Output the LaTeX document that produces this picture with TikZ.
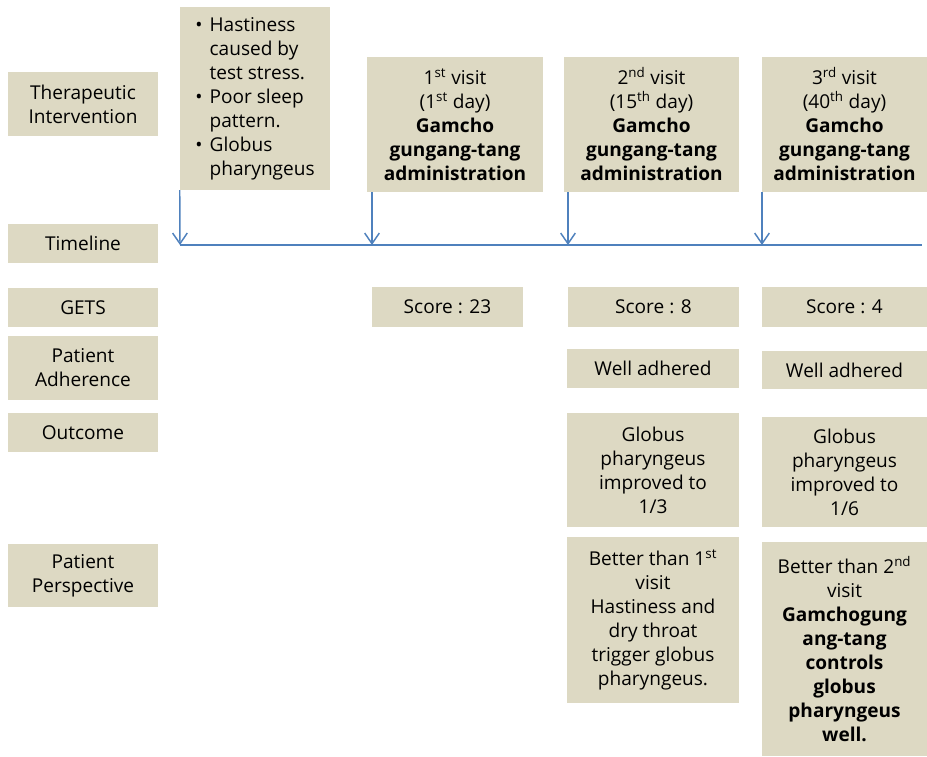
\documentclass[tikz,border=0pt]{standalone}
\usepackage{fontspec}
\setmainfont{Open Sans}
\usetikzlibrary{arrows.meta}
\definecolor{boxtan}{HTML}{DDD9C3}
\definecolor{lineblue}{HTML}{4F81BD}
\newcommand{\bul}{\makebox[0.75em][l]{\textbullet}}
\newcommand{\ind}{\hspace*{0.75em}}

\begin{document}
\begin{tikzpicture}[x=0.75pt,y=-0.75pt,
 cell/.style={fill=boxtan,inner sep=1pt,align=center,
  font=\fontsize{14.3}{18}\selectfont,text=black},
 tick/.style={draw=lineblue,line width=1.1pt,-{Straight Barb[length=8pt,width=11pt]}},
 timeline/.style={draw=lineblue,line width=1.5pt}]
\useasboundingbox (0,0) rectangle (927,756);
% row labels
\node[cell,minimum width=112.5pt,minimum height=48pt] (lab1) at (83,104) {Therapeutic\\Intervention};
\node[cell,minimum width=112.5pt,minimum height=29pt] (lab2) at (83,243.5) {Timeline};
\node[cell,minimum width=112.5pt,minimum height=29pt] (lab3) at (83,307.5) {GETS};
\node[cell,minimum width=112.5pt,minimum height=48pt] (lab4) at (83,368) {Patient\\Adherence};
\node[cell,minimum width=112.5pt,minimum height=29pt] (lab5) at (83,432.5) {Outcome};
\node[cell,minimum width=112.5pt,minimum height=47pt] (lab6) at (83,575.5) {Patient\\Perspective};
% interventions
\node[cell,align=left,minimum width=112.5pt,minimum height=137pt] (pre) at (255,98.5)
 {\bul Hastiness\\ \ind caused by\\ \ind test stress.\\ \bul Poor sleep\\ \ind pattern.\\ \bul Globus\\ \ind pharyngeus};
\node[cell,minimum width=132pt,minimum height=101pt] (v1) at (455,124.5)
 {1\textsuperscript{st} visit\\(1\textsuperscript{st} day)\\\textbf{Gamcho}\\\textbf{gungang-tang}\\\textbf{administration}};
\node[cell,minimum width=131pt,minimum height=101pt] (v2) at (651.5,124.5)
 {2\textsuperscript{nd} visit\\(15\textsuperscript{th} day)\\\textbf{Gamcho}\\\textbf{gungang-tang}\\\textbf{administration}};
\node[cell,minimum width=124pt,minimum height=101pt] (v3) at (844.5,124.5)
 {3\textsuperscript{rd} visit\\(40\textsuperscript{th} day)\\\textbf{Gamcho}\\\textbf{gungang-tang}\\\textbf{administration}};
% timeline
\coordinate (t0) at (180,245);
\coordinate (t1) at (372,245);
\coordinate (t2) at (568,245);
\coordinate (t3) at (762,245);
\coordinate (tend) at (922,245);
\draw[timeline] (t0) -- (tend);
\draw[tick] (pre.south west) -- (t0);
\draw[tick] (v1.south west -| t1) -- (t1);
\draw[tick] (v2.south west -| t2) -- (t2);
\draw[tick] (v3.south west -| t3) -- (t3);
% scores
\node[cell,minimum width=113pt,minimum height=30pt] (s1) at (447.5,307) {Score : 23};
\node[cell,minimum width=128pt,minimum height=30pt] (s2) at (653.5,307) {Score : 8};
\node[cell,minimum width=124pt,minimum height=30pt] (s3) at (844.5,307) {Score : 4};
% adherence
\node[cell,minimum width=129pt,minimum height=29pt] (a2) at (653,368.5) {Well adhered};
\node[cell,minimum width=124pt,minimum height=28.5pt] (a3) at (844.5,370) {Well adhered};
% outcome
\node[cell,minimum width=129pt,minimum height=85.5pt] (o2) at (653,470) {Globus\\pharyngeus\\improved to\\1/3};
\node[cell,minimum width=124pt,minimum height=82.5pt] (o3) at (844.5,472) {Globus\\pharyngeus\\improved to\\1/6};
% perspective
\node[cell,minimum width=129pt,minimum height=124.5pt] (p2) at (653,620)
 {Better than 1\textsuperscript{st}\\visit\\Hastiness and\\dry throat\\trigger globus\\pharyngeus.};
\node[cell,minimum width=124pt,minimum height=160.5pt] (p3) at (844.5,649)
 {Better than 2\textsuperscript{nd}\\visit\\\textbf{Gamchogung}\\\textbf{ang-tang}\\\textbf{controls}\\\textbf{globus}\\\textbf{pharyngeus}\\\textbf{well.}};
\end{tikzpicture}
\end{document}
